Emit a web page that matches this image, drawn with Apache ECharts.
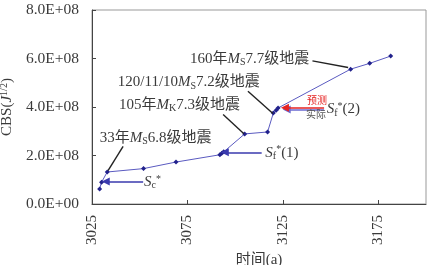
<!DOCTYPE html>
<html>
<head>
<meta charset="utf-8">
<script src="https://cdn.jsdelivr.net/npm/echarts@6/dist/echarts.min.js"></script>
<style>
  html, body { margin: 0; padding: 0; background: #fff; }
  #main { width: 433px; height: 265px; }
</style>
</head>
<body>
<div id="main"></div>
<script>
// 数据 (时间 a, CBS J^1/2)
const years = [3029, 3030, 3033, 3052, 3069, 3092, 3093, 3094, 3105, 3117, 3120, 3121.5, 3122.5, 3160.5, 3170.5, 3181.5]
const cbs = [0.62e8, 0.90e8, 1.32e8, 1.46e8, 1.73e8, 2.03e8, 2.09e8, 2.15e8, 2.89e8, 2.97e8, 3.75e8, 3.87e8, 3.96e8, 5.56e8, 5.80e8, 6.10e8]
const xTicks = [3025, 3075, 3125, 3175]

// 标注文字: [文字, 年, 值]
const notes = [
  ['160年{i|M}{sub|S}7.7级地震', 3076.3, 5.98e8],
  ['120/11/10{i|M}{sub|S}7.2级地震', 3038.5, 5.01e8],
  ['105年{i|M}{sub|K}7.3级地震', 3039.2, 4.07e8],
  ['33年{i|M}{sub|S}6.8级地震', 3029.0, 2.73e8],
  ['{i|S}{sub|c}{sup|*}', 3052.3, 0.91e8],
  ['{i|S}{sub|f}{sup|*}(1)', 3115.8, 2.11e8],
  ['{i|S}{sub|f}{sup|*}(2)', 3148.0, 3.90e8]
]
// 引线: 起点 -> 终点
const leaders = [
  [[3140.5, 5.90e8], [3159.2, 5.63e8]],
  [[3106.7, 4.65e8], [3119.8, 3.73e8]],
  [[3093.7, 3.69e8], [3104.6, 2.90e8]],
  [[3041.3, 2.38e8], [3033.4, 1.38e8]]
]
// 箭头
const arrows = [
  [[3051.8, 0.925e8], [3032.2, 0.925e8], '#3a3aae'],
  [[3113.9, 2.13e8], [3094.6, 2.13e8], '#3a3aae'],
  [[3146.6, 3.90e8], [3127.0, 3.90e8], '#6a6ad0'],
  [[3146.6, 3.97e8], [3126.1, 3.97e8], '#e52222']
]

const serif = 'Liberation Serif, Noto Sans CJK SC'
const txt = '#3a3a3a'
const rich = {
  i: { fontStyle: 'italic', fontSize: 15, fontFamily: serif, color: txt },
  sub: { fontSize: 10, fontFamily: serif, color: txt, padding: [7, 0, 0, 0] },
  sup: { fontSize: 10, fontFamily: serif, color: txt, padding: [0, 0, 6, 0] }
}

function sci(v) {
  if (v === 0) return '0.0E+00'
  const e = Math.floor(Math.log10(v))
  const m = v / Math.pow(10, e)
  return m.toFixed(1) + 'E+' + (e < 10 ? '0' + e : e)
}

const chart = echarts.init(document.getElementById('main'))

const leaderData = leaders.map(l => [
  { coord: l[0], symbol: 'none', lineStyle: { color: '#222', width: 1.4, type: 'solid' } },
  { coord: l[1], symbol: 'none' }
])
const arrowData = arrows.map(a => [
  { coord: a[0], symbol: 'none', lineStyle: { color: a[2], width: 1.6, type: 'solid' } },
  { coord: a[1], symbol: 'triangle', symbolSize: [8, 8], symbolRotate: 90, itemStyle: { color: a[2] } }
])

const option = {
  animation: false,
  grid: {
    left: 92, right: 7, top: 10, bottom: 61,
    outerBoundsMode: 'none', containLabel: false,
    show: true, borderColor: '#999', borderWidth: 1
  },
  xAxis: {
    type: 'value',
    min: 3025,
    max: 3200,
    interval: 25,
    name: '时间(a)',
    nameLocation: 'middle',
    nameGap: 46,
    nameTextStyle: { fontFamily: serif, fontSize: 15, color: txt },
    axisLine: { lineStyle: { color: '#444' } },
    axisTick: { inside: true, length: 4, customValues: xTicks, lineStyle: { color: '#444' } },
    axisLabel: { rotate: 90, margin: 11, customValues: xTicks, formatter: v => String(v), fontFamily: serif, fontSize: 15, color: txt },
    splitLine: { show: false }
  },
  yAxis: {
    type: 'value',
    min: 0,
    max: 8e8,
    interval: 2e8,
    name: 'CBS({i|J}{sup|1/2})',
    nameLocation: 'middle',
    nameRotate: 90,
    nameGap: 61,
    nameTextStyle: {
      fontFamily: serif, fontSize: 15, color: txt,
      rich: {
        i: { fontFamily: serif, fontStyle: 'italic', fontSize: 15, color: txt },
        sup: { fontFamily: serif, fontSize: 10, color: txt, padding: [0, 0, 6, 0] }
      }
    },
    axisLine: { show: true, lineStyle: { color: '#444' } },
    axisTick: { show: true, inside: true, length: 4, lineStyle: { color: '#444' } },
    axisLabel: { margin: 13, formatter: sci, fontFamily: serif, fontSize: 15.5, color: txt },
    splitLine: { show: false }
  },
  series: [
    {
      type: 'line',
      data: years.map((y, i) => [y, cbs[i]]),
      symbol: 'diamond',
      symbolSize: 5,
      showSymbol: true,
      itemStyle: { color: '#22228c' },
      lineStyle: { color: '#5a5ac0', width: 1 },
      emphasis: { disabled: true },
      silent: true
    },
    {
      type: 'line',
      data: [],
      silent: true,
      markLine: {
        silent: true,
        animation: false,
        label: { show: false },
        emphasis: { disabled: true },
        data: leaderData.concat(arrowData)
      },
      markPoint: {
        silent: true,
        animation: false,
        symbol: 'rect',
        symbolSize: 0,
        label: {
          show: true,
          position: 'right',
          distance: 0,
          fontFamily: serif,
          fontSize: 15,
          color: txt,
          rich: rich
        },
        data: notes.map(n => ({ coord: [n[1], n[2]], value: n[0], label: { formatter: n[0] } })).concat([
          { coord: [3137.6, 4.22e8], label: { formatter: '预测', fontSize: 10, color: '#e52222' } },
          { coord: [3137.1, 3.64e8], label: { formatter: '实际', fontSize: 10, color: '#555' } }
        ])
      }
    }
  ]
}

chart.setOption(option)
</script>
</body>
</html>
